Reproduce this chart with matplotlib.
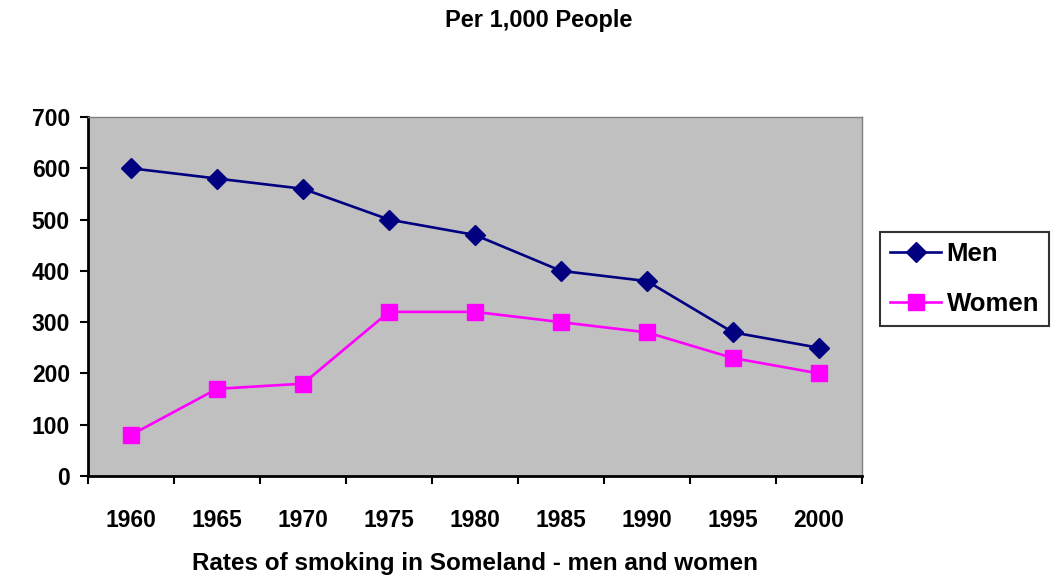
import numpy as np
import matplotlib.pyplot as plt

plt.rcParams['font.family'] = ['Liberation Sans', 'DejaVu Sans']
plt.rcParams['font.weight'] = 'bold'

years = ['1960', '1965', '1970', '1975', '1980', '1985', '1990', '1995', '2000']
men = [600, 580, 560, 500, 470, 400, 380, 280, 250]
women = [80, 170, 180, 320, 320, 300, 280, 230, 200]

x = np.arange(len(years))

fig = plt.figure(figsize=(10.58, 5.83), dpi=100)
ax = fig.add_axes([88/1058, 1-476/583, 774/1058, 359/583])
ax.set_facecolor('#C0C0C0')

ax.plot(x, men, color='#000080', lw=1.9, marker='D', ms=10, label='Men')
ax.plot(x, women, color='#FF00FF', lw=1.9, marker='s', ms=11, label='Women')

ax.set_xlim(-0.5, len(years) - 0.5)
ax.set_ylim(0, 700)
ax.set_yticks(range(0, 701, 100))
ax.set_xticks(x)
ax.set_xticklabels(years)
ax.set_xticks(np.arange(-0.5, len(years)), minor=True)
ax.tick_params(axis='x', which='major', length=0, pad=24, labelsize=16.5)
ax.tick_params(axis='x', which='minor', length=6, width=1.5, direction='out')
ax.tick_params(axis='y', length=6, width=1.5, direction='out', labelsize=16.5, pad=7)

for s in ['left', 'bottom']:
    ax.spines[s].set_linewidth(2)
    ax.spines[s].set_color('black')
for s in ['top', 'right']:
    ax.spines[s].set_linewidth(1)
    ax.spines[s].set_color('#808080')

ax.set_xlabel('Rates of smoking in Someland - men and women', fontsize=17.5,
              fontweight='bold', labelpad=14)
fig.text(539/1058, 1-21/583, 'Per 1,000 People', ha='center', va='center',
         fontsize=17, fontweight='bold')

leg = ax.legend(loc='center left', bbox_to_anchor=(1.023, 0.549), fontsize=18.5,
                frameon=True, fancybox=False, edgecolor='black',
                handlelength=2.0, handletextpad=0.2, borderpad=0.4,
                labelspacing=1.0, borderaxespad=0)
leg.get_frame().set_linewidth(1.5)

fig.savefig('out.png', dpi=100)
